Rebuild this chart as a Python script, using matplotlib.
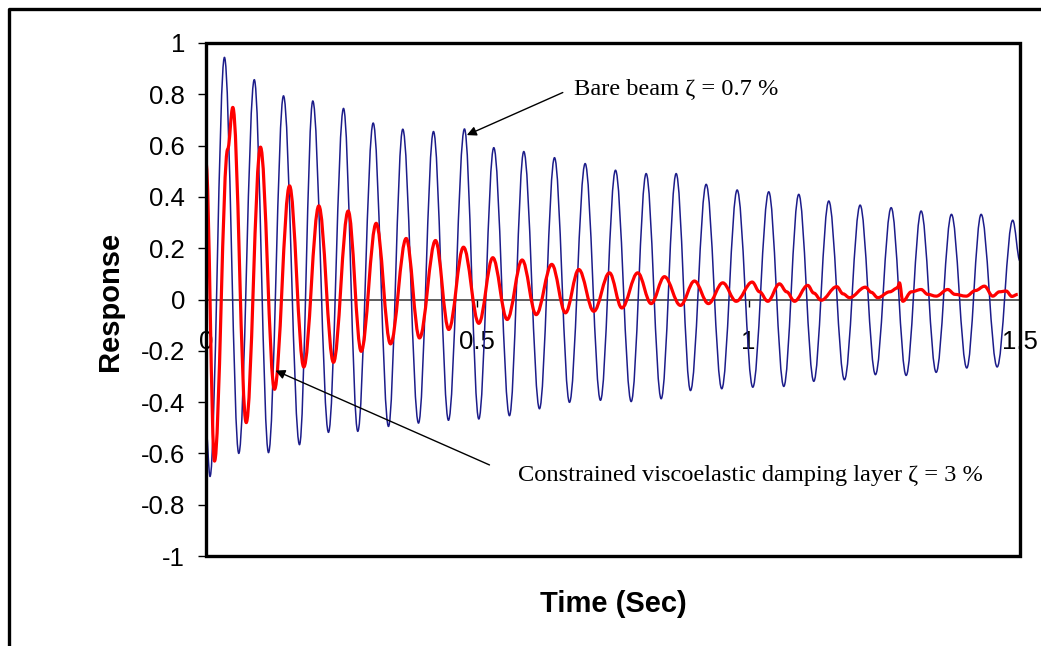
import matplotlib
matplotlib.use("Agg")
import matplotlib.pyplot as plt
from matplotlib.lines import Line2D
from matplotlib.patches import Rectangle, PathPatch
from matplotlib.path import Path

plt.rcParams['axes.unicode_minus'] = False
plt.rcParams['font.family'] = ['Liberation Sans', 'DejaVu Sans']

# ---- data: turning points of each trace ----
bare_t = [0.000, 0.0074, 0.034, 0.0604, 0.089, 0.1152, 0.1428, 0.1723, 0.1968, 0.2257,
          0.2534, 0.2797, 0.3081, 0.3363, 0.3626, 0.3916, 0.4192, 0.4468, 0.4763, 0.5027,
          0.5303, 0.5592, 0.5856, 0.6145, 0.6422, 0.6698, 0.6987, 0.7269, 0.7546, 0.7835,
          0.8111, 0.8388, 0.8664, 0.8928, 0.9217, 0.9504, 0.9788, 1.0076, 1.037, 1.0647,
          1.0923, 1.12, 1.1476, 1.1765, 1.2054, 1.2336, 1.2626, 1.2902, 1.3178, 1.3455,
          1.3737, 1.4019, 1.4284, 1.4579, 1.4866, 1.5000]
bare_v = [-0.50, -0.69, 0.944, -0.60, 0.857, -0.597, 0.794, -0.566, 0.774, -0.518,
          0.745, -0.514, 0.688, -0.495, 0.664, -0.482, 0.655, -0.471, 0.665, -0.466,
          0.592, -0.453, 0.577, -0.426, 0.553, -0.401, 0.530, -0.393, 0.504, -0.398,
          0.491, -0.387, 0.491, -0.355, 0.449, -0.348, 0.427, -0.342, 0.420, -0.339,
          0.410, -0.319, 0.384, -0.313, 0.368, -0.293, 0.358, -0.296, 0.345, -0.284,
          0.332, -0.267, 0.332, -0.263, 0.309, 0.15]

damped_t = [0.000, 0.0157, 0.040, 0.0494, 0.0741, 0.1004, 0.1262, 0.1539, 0.1802, 0.2079,
            0.2349, 0.262, 0.286, 0.3136, 0.340, 0.3689, 0.3934, 0.4229, 0.4474, 0.4745,
            0.5027, 0.5285, 0.555, 0.5826, 0.6084, 0.6372, 0.6624, 0.6869, 0.7146, 0.7435,
            0.7662, 0.7956, 0.8203, 0.8448, 0.8743, 0.9001, 0.9259, 0.9523, 0.977, 1.0065,
            1.0200, 1.0352, 1.0568, 1.0700, 1.0844, 1.1089, 1.1200, 1.1336, 1.1623, 1.1740,
            1.1857, 1.2152, 1.2260, 1.2379, 1.2600, 1.2742, 1.2779, 1.284, 1.3000, 1.3178,
            1.3300, 1.3455, 1.3669, 1.3800, 1.4008, 1.4180, 1.4345, 1.4498, 1.4620, 1.4745,
            1.4850, 1.4958]
damped_v = [0.534, -0.63, 0.586, 0.749, -0.48, 0.594, -0.35, 0.443, -0.263, 0.365,
            -0.245, 0.345, -0.202, 0.297, -0.173, 0.238, -0.150, 0.230, -0.117, 0.204,
            -0.093, 0.163, -0.078, 0.154, -0.059, 0.137, -0.052, 0.117, -0.046, 0.104,
            -0.033, 0.104, -0.016, 0.089, -0.023, 0.072, -0.016, 0.065, -0.007, 0.068,
            0.030, -0.007, 0.061, 0.030, -0.007, 0.055, 0.025, -0.003, 0.050, 0.022,
            0.007, 0.048, 0.028, 0.007, 0.030, 0.045, 0.065, -0.007, 0.030, 0.039,
            0.020, 0.013, 0.039, 0.020, 0.013, 0.035, 0.052, 0.013, 0.030, 0.033,
            0.012, 0.020]

x_ticks = [0, 0.5, 1, 1.5]
x_labels = ['0', '0.5', '1', '1.5']
y_ticks = [1, 0.8, 0.6, 0.4, 0.2, 0, -0.2, -0.4, -0.6, -0.8, -1]
y_labels = ['1', '0.8', '0.6', '0.4', '0.2', '0', '-0.2', '-0.4', '-0.6', '-0.8', '-1']


def smooth_path(ts, vs):
    """Smooth curve through the turning points (horizontal tangent at each)."""
    k = 0.3634
    verts = [(ts[0], vs[0])]
    codes = [Path.MOVETO]
    for i in range(len(ts) - 1):
        dt = ts[i + 1] - ts[i]
        verts += [(ts[i] + k * dt, vs[i]), (ts[i + 1] - k * dt, vs[i + 1]),
                  (ts[i + 1], vs[i + 1])]
        codes += [Path.CURVE4] * 3
    return Path(verts, codes)


W, H = 1041, 646
fig = plt.figure(figsize=(W / 100, H / 100), dpi=100)
ax = fig.add_axes([206 / W, 1 - 556 / H, (1020 - 206) / W, (556 - 43) / H])

ax.add_patch(PathPatch(smooth_path(bare_t, bare_v), fill=False, edgecolor='#1c1c8a',
                       lw=1.1, zorder=3, joinstyle='round'))
ax.add_patch(PathPatch(smooth_path(damped_t, damped_v), fill=False, edgecolor='#ff0000',
                       lw=2.3, zorder=4, joinstyle='round'))

ax.set_xlim(0, 1.5)
ax.set_ylim(-1, 1)

# zero line as the x-axis
ax.spines['bottom'].set_position(('data', 0))
ax.spines['bottom'].set_linewidth(1.1)
ax.spines['bottom'].set_color('#333333')
for s in ['top', 'right', 'left']:
    ax.spines[s].set_visible(False)
ax.add_patch(Rectangle((0, 0), 1, 1, transform=ax.transAxes, fill=False,
                       edgecolor='black', lw=2.4, zorder=6, clip_on=False))

ax.set_xticks(x_ticks)
ax.set_xticklabels(x_labels)
ax.set_yticks(y_ticks)
ax.set_yticklabels(y_labels)
ax.tick_params(axis='x', direction='out', length=5, width=1, pad=17, labelsize=18.5,
               colors='black')
ax.tick_params(axis='y', direction='out', length=6, width=1, pad=9, labelsize=18.5,
               colors='black')

fig.text(110 / W, 1 - 301 / H, 'Response', rotation=90, ha='center', va='center',
         fontsize=21, fontweight='bold')
fig.text(613 / W, 1 - 604 / H, 'Time (Sec)', ha='center', va='center',
         fontsize=21, fontweight='bold')

serif = ['Liberation Serif', 'DejaVu Serif']
ax.annotate('', xy=(0.4806, 0.641), xytext=(0.6575, 0.807),
            arrowprops=dict(arrowstyle='-|>', color='black', lw=1, mutation_scale=14,
                            shrinkA=0, shrinkB=0), zorder=7)
ax.text(0.679, 0.820, 'Bare beam ζ = 0.7 %', family=serif, fontsize=17.6,
        ha='left', va='center')
ax.annotate('', xy=(0.128, -0.277), xytext=(0.5224, -0.645),
            arrowprops=dict(arrowstyle='-|>', color='black', lw=1, mutation_scale=14,
                            shrinkA=0, shrinkB=0), zorder=7)
ax.text(0.5758, -0.6875, 'Constrained viscoelastic damping layer ζ = 3 %', family=serif,
        fontsize=17.6, ha='left', va='center')

# outer frame (top and left edges visible)
fig.add_artist(Line2D([9 / W, 9 / W, 1.0], [0.0, 1 - 9 / H, 1 - 9 / H],
                      transform=fig.transFigure, color='black', lw=2.4))

fig.savefig('out.png', dpi=100)
